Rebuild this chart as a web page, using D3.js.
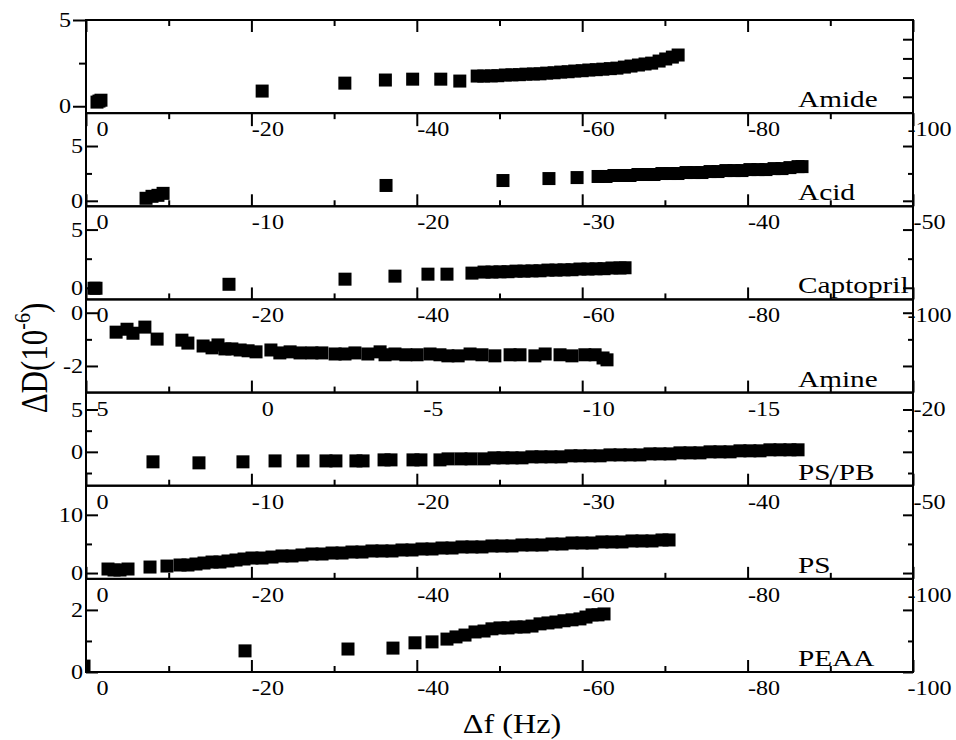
<!DOCTYPE html>
<html>
<head>
<meta charset="utf-8">
<script src="https://cdn.jsdelivr.net/npm/d3@7"></script>
<style>
  body { margin: 0; background: #fff; }
  svg text { font-family: "Liberation Serif", "Times New Roman", serif; fill: #000; }
</style>
</head>
<body>
<svg id="chart" width="956" height="740"></svg>
<script>
// ---- data ----
const panelNames = ["Amide", "Acid", "Captopril", "Amine", "PS/PB", "PS", "PEAA"];

const amideDf = [-1.33,-1.57,-1.81,-21.3,-31.3,-36.2,-39.5,-42.9,-45.2,
  -47.3,-48.1,-49.0,-49.8,-50.7,-51.5,-52.4,-53.2,-54.1,-54.9,
  -55.7,-56.6,-57.4,-58.3,-59.1,-60.0,-60.8,-61.7,-62.5,-63.4,
  -64.2,-65.1,-65.9,-66.8,-67.6,-68.4,-69.3,-70.1,-70.9,-71.6];
const amideDD = [0.24,0.30,0.35,0.88,1.34,1.52,1.57,1.57,1.46,
  1.75,1.75,1.76,1.77,1.81,1.82,1.83,1.86,1.87,1.88,
  1.92,1.94,1.98,2.00,2.04,2.06,2.10,2.12,2.15,2.18,
  2.21,2.27,2.33,2.39,2.45,2.50,2.62,2.74,2.85,2.97];

const acidDf = [-3.63,-3.99,-4.35,-4.66,-18.14,-25.21,-27.99,-29.69,
  -30.96,-31.44,-31.92,-32.41,-32.89,-33.37,-33.86,-34.34,-34.82,-35.31,
  -35.79,-36.28,-36.76,-37.24,-37.73,-38.21,-38.69,-39.18,-39.66,-40.14,
  -40.63,-41.11,-41.60,-42.08,-42.56,-43.05,-43.29];
const acidDD = [0.23,0.41,0.50,0.68,1.40,1.85,2.03,2.12,
  2.22,2.22,2.31,2.31,2.31,2.40,2.40,2.40,2.49,2.49,
  2.49,2.58,2.58,2.58,2.67,2.67,2.76,2.76,2.76,2.85,
  2.85,2.85,2.94,2.94,3.03,3.12,3.12];

const captoDf = [-0.97,-1.21,-17.29,-31.32,-37.36,-41.35,-43.65,-46.67,
  -48.13,-49.09,-50.06,-51.03,-52.00,-52.96,-53.93,-54.90,-55.86,-56.83,
  -57.80,-58.77,-59.73,-60.70,-61.67,-62.64,-63.60,-64.57,-65.18];
const captoDD = [-0.04,-0.04,0.30,0.74,1.00,1.17,1.17,1.26,
  1.35,1.35,1.37,1.38,1.43,1.43,1.45,1.46,1.52,1.52,
  1.54,1.55,1.61,1.61,1.63,1.64,1.70,1.70,1.72];

const amineDf = [4.09,3.76,3.58,3.22,2.85,2.10,1.92,1.46,1.19,1.01,
  0.80,0.59,0.34,0.10,-0.14,-0.59,-0.86,-1.17,-1.47,-1.83,
  -2.13,-2.53,-2.83,-3.13,-3.52,-3.89,-4.04,-4.34,-4.67,-5.01,
  -5.40,-5.70,-5.94,-6.25,-6.61,-6.97,-7.36,-7.82,-8.12,-8.57,
  -8.88,-9.33,-9.69,-10.08,-10.39,-10.63,-10.75];
const amineDD = [-0.73,-0.62,-0.77,-0.54,-0.99,-1.03,-1.14,-1.25,-1.32,-1.21,
  -1.36,-1.36,-1.40,-1.43,-1.47,-1.40,-1.51,-1.47,-1.51,-1.51,
  -1.51,-1.55,-1.55,-1.51,-1.55,-1.47,-1.58,-1.55,-1.58,-1.58,
  -1.55,-1.58,-1.62,-1.62,-1.55,-1.58,-1.62,-1.58,-1.58,-1.62,
  -1.55,-1.58,-1.62,-1.58,-1.58,-1.70,-1.77];

const pspbDf = [-4.05,-6.83,-9.49,-11.43,-13.12,-14.51,-15.11,-16.32,-16.75,-18.02,
  -18.44,-19.77,-20.25,-21.40,-21.89,-22.67,-23.28,-24.06,-24.67,-25.21,
  -25.76,-26.36,-26.96,-27.51,-28.11,-28.72,-29.32,-29.87,-30.47,-31.08,
  -31.68,-32.29,-32.89,-33.49,-34.10,-34.70,-35.31,-35.91,-36.52,-37.12,
  -37.73,-38.33,-38.94,-39.54,-40.14,-40.75,-41.35,-41.96,-42.56,-43.05];
const pspbDD = [-1.18,-1.30,-1.18,-1.07,-1.07,-1.07,-1.07,-1.07,-1.07,-0.95,
  -0.95,-0.95,-0.95,-0.95,-0.83,-0.83,-0.83,-0.83,-0.71,-0.71,
  -0.71,-0.71,-0.59,-0.59,-0.59,-0.59,-0.47,-0.47,-0.47,-0.47,
  -0.36,-0.36,-0.36,-0.36,-0.24,-0.24,-0.24,-0.12,-0.12,-0.12,
  0.00,0.00,0.00,0.12,0.12,0.12,0.24,0.24,0.24,0.24];

const psDf = [-2.66,-3.39,-4.11,-5.08,-7.74,-9.79,-11.37,-12.33,-13.30,-14.27,
  -15.24,-16.20,-17.17,-18.14,-19.11,-20.07,-21.28,-22.49,-23.70,-24.91,
  -26.12,-27.33,-28.54,-29.75,-30.96,-32.16,-33.37,-34.58,-35.79,-37.00,
  -38.21,-39.42,-40.63,-41.84,-43.05,-44.26,-45.47,-46.67,-47.88,-49.09,
  -50.30,-51.51,-52.72,-53.93,-55.14,-56.35,-57.56,-58.77,-59.98,-61.19,
  -62.39,-63.60,-64.81,-66.02,-67.23,-68.44,-69.65,-70.50];
const psDD = [0.69,0.52,0.52,0.69,1.03,1.20,1.38,1.38,1.55,1.72,
  1.89,1.89,2.07,2.24,2.41,2.58,2.58,2.75,2.93,2.93,
  3.10,3.27,3.27,3.44,3.44,3.61,3.61,3.79,3.79,3.79,
  3.96,3.96,4.13,4.13,4.30,4.30,4.48,4.48,4.48,4.65,
  4.65,4.65,4.82,4.82,4.82,4.99,4.99,5.16,5.16,5.16,
  5.34,5.34,5.34,5.51,5.51,5.51,5.68,5.68];

const peaaDf = [0.24,-19.23,-31.68,-37.12,-39.78,-41.84,-43.65,-44.74,-45.83,-47.04,
  -48.13,-49.09,-50.06,-51.03,-52.00,-52.96,-53.93,-54.90,-55.86,-56.83,
  -57.80,-58.77,-59.73,-60.46,-61.19,-61.91,-62.64];
const peaaDD = [0.19,0.68,0.74,0.77,0.94,0.97,1.06,1.13,1.19,1.29,
  1.32,1.39,1.42,1.42,1.45,1.45,1.48,1.55,1.58,1.61,
  1.65,1.68,1.71,1.77,1.84,1.84,1.87];

// axes
const xTicks100 = [0, -20, -40, -60, -80, -100];
const xTicks50 = [0, -10, -20, -30, -40, -50];
const xTicks20 = [5, 0, -5, -10, -15, -20];
const xTickSets = [xTicks100, xTicks50, xTicks100, xTicks20, xTicks50, xTicks100, xTicks100];

const yDomains = [[-0.4, 5], [-0.5, 8], [-1, 7], [-3, 0.5], [-4, 7], [-1, 15], [0, 3]];
const yMajor = [[0, 5], [0, 5], [0, 5], [0, -2], [0, 5], [0, 10], [0, 2]];
const yMinor = [[2.5], [2.5], [2.5], [-1], [-2.5, 2.5], [5], [1]];
// the top panel has its own unlabeled right axis
const amideRightDomain = [-0.85, 4];
const amideRightTicks = [0, 1, 2, 3];

const dfSeries = [amideDf, acidDf, captoDf, amineDf, pspbDf, psDf, peaaDf];
const ddSeries = [amideDD, acidDD, captoDD, amineDD, pspbDD, psDD, peaaDD];

// ---- drawing ----
const svg = d3.select("#chart");
const xLeft = 86, xRight = 913, top0 = 20;
const ph = (672 - top0) / 7;
const sx = 1.15; // glyphs in the figure are a bit wide
const msize = 13;

function styleAxis(sel) {
  sel.attr("font-family", null).attr("font-size", 21);
  sel.select(".domain").remove();
  sel.selectAll("line").attr("stroke", "#000").attr("stroke-width", 2);
}

panelNames.forEach((name, i) => {
  const outer = i === 0;
  const g = svg.append("g").attr("transform", `translate(0,${top0 + i * ph})`);
  const ticks = xTickSets[i];
  const x = d3.scaleLinear().domain([ticks[0], ticks[ticks.length - 1]]).range([xLeft, xRight]);
  const y = d3.scaleLinear().domain(yDomains[i]).range([ph, 0]);
  const xMinor = d3.pairs(ticks).map(([a, b]) => (a + b) / 2);

  g.append("clipPath").attr("id", "clip" + i)
    .append("rect").attr("x", xLeft).attr("y", 0).attr("width", xRight - xLeft).attr("height", ph);

  g.append("g").attr("clip-path", `url(#clip${i})`)
    .selectAll("rect")
    .data(d3.zip(dfSeries[i], ddSeries[i]))
    .join("rect")
    .attr("x", d => x(d[0]) - msize / 2)
    .attr("y", d => y(d[1]) - msize / 2)
    .attr("width", msize)
    .attr("height", msize)
    .attr("fill", "#000");

  // bottom axis with labels
  const bx = g.append("g").attr("transform", `translate(0,${ph})`)
    .call(d3.axisBottom(x).tickValues(ticks).tickSize(outer ? 13 : -12).tickFormat(d => String(d)))
    .call(styleAxis);
  bx.selectAll("text")
    .attr("x", null).attr("y", null).attr("dy", null)
    .attr("text-anchor", "middle")
    .attr("transform", `translate(16,23) scale(${sx},1)`);
  g.append("g").attr("transform", `translate(0,${ph})`)
    .call(d3.axisBottom(x).tickValues(xMinor).tickSize(outer ? 6 : -6).tickFormat(""))
    .call(styleAxis);

  if (outer) {
    g.append("g").call(d3.axisTop(x).tickValues(ticks).tickSize(-12).tickFormat("")).call(styleAxis);
    g.append("g").call(d3.axisTop(x).tickValues(xMinor).tickSize(-6).tickFormat("")).call(styleAxis);
  }

  // left axis
  const ly = g.append("g").attr("transform", `translate(${xLeft},0)`)
    .call(d3.axisLeft(y).tickValues(yMajor[i]).tickSize(outer ? 13 : -12).tickFormat(d => String(d)))
    .call(styleAxis);
  ly.selectAll("text")
    .attr("x", null)
    .attr("text-anchor", "end")
    .attr("transform", `translate(${outer ? -15 : -3},0) scale(${sx},1)`);
  g.append("g").attr("transform", `translate(${xLeft},0)`)
    .call(d3.axisLeft(y).tickValues(yMinor[i]).tickSize(outer ? 7 : -6).tickFormat(""))
    .call(styleAxis);

  // right axis, no labels
  if (outer) {
    const yr = d3.scaleLinear().domain(amideRightDomain).range([ph, 0]);
    g.append("g").attr("transform", `translate(${xRight},0)`)
      .call(d3.axisRight(yr).tickValues(amideRightTicks).tickSize(-10).tickFormat(""))
      .call(styleAxis);
  } else {
    g.append("g").attr("transform", `translate(${xRight},0)`)
      .call(d3.axisRight(y).tickValues(yMajor[i]).tickSize(-10).tickFormat(""))
      .call(styleAxis);
    g.append("g").attr("transform", `translate(${xRight},0)`)
      .call(d3.axisRight(y).tickValues(yMinor[i]).tickSize(-5).tickFormat(""))
      .call(styleAxis);
  }

  g.append("rect")
    .attr("x", xLeft).attr("y", 0)
    .attr("width", xRight - xLeft).attr("height", ph)
    .attr("fill", "none").attr("stroke", "#000").attr("stroke-width", 2);

  g.append("text")
    .attr("transform", `translate(798,${ph - 6}) scale(1.22,1)`)
    .attr("font-size", 24)
    .text(name);
});

// axis titles
const yt = svg.append("text")
  .attr("transform", `translate(47,358) rotate(-90) scale(1,1.2)`)
  .attr("text-anchor", "middle")
  .attr("font-size", 31);
yt.append("tspan").text("ΔD(10");
yt.append("tspan").attr("font-size", 20).attr("dy", -14).text("-6");
yt.append("tspan").attr("dy", 14).text(")");

svg.append("text")
  .attr("transform", `translate(512,733) scale(${sx},1)`)
  .attr("text-anchor", "middle")
  .attr("font-size", 28)
  .text("Δf (Hz)");
</script>
</body>
</html>
